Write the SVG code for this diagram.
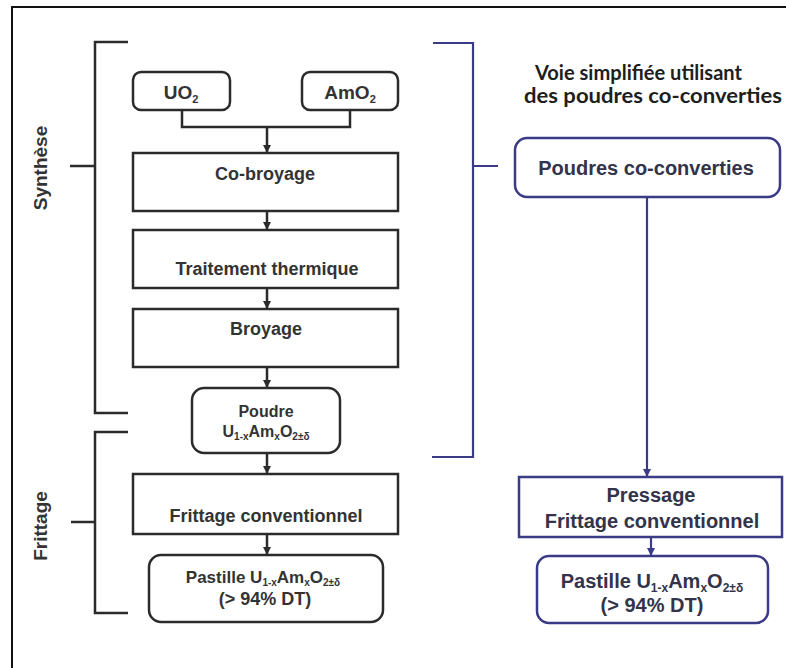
<svg xmlns="http://www.w3.org/2000/svg" width="786" height="668" viewBox="0 0 786 668">
  <style>
    .box-k { fill: #ffffff; stroke: #2b2b2b; stroke-width: 2.5; }
    .box-b { fill: #ffffff; stroke: #3a3a86; stroke-width: 2.5; }
    .ln-k { fill: none; stroke: #2b2b2b; stroke-width: 2.5; }
    .ln-b { fill: none; stroke: #3a3a86; stroke-width: 2.2; }
    .t { font-family: "Liberation Sans", Arial, sans-serif; font-weight: bold; fill: #333333; text-anchor: middle; }
    .tk { font-size: 18px; }
    .tb { font-size: 20px; fill: #33334a; }
    .title { font-family: Lato, "Open Sans", sans-serif; font-weight: bold; font-size: 20px; fill: #1e1e1e; }
  </style>
  <defs>
    <marker id="ak" viewBox="0 0 10 10" refX="10" refY="5" markerWidth="8" markerHeight="8" markerUnits="userSpaceOnUse" orient="auto">
      <path d="M0,0 L10,5 L0,10 Z" fill="#2b2b2b"/>
    </marker>
    <marker id="ab" viewBox="0 0 10 10" refX="10" refY="5" markerWidth="8" markerHeight="8" markerUnits="userSpaceOnUse" orient="auto">
      <path d="M0,0 L10,5 L0,10 Z" fill="#3a3a86"/>
    </marker>
  </defs>

  <rect width="786" height="668" fill="#ffffff"/>
  <!-- outer frame (runs off the right and bottom edges) -->
  <rect x="12" y="7" width="800" height="700" fill="none" stroke="#111111" stroke-width="2"/>

  <!-- phase brackets -->
  <g id="bracket-synthese">
    <path class="ln-k" d="M128,42 H95 V413 H128 M70,166 H95"/>
    <text class="t" font-size="19" transform="translate(47,168) rotate(-90)">Synthèse</text>
  </g>
  <g id="bracket-frittage">
    <path class="ln-k" d="M128,432 H95 V613 H128 M71,522 H95"/>
    <text class="t" font-size="19" transform="translate(47,526) rotate(-90)">Frittage</text>
  </g>
  <g id="bracket-voie">
    <path class="ln-b" d="M433,43 H473 V457 H432 M473,166 H498"/>
  </g>

  <!-- conventional route -->
  <g id="uo2">
    <rect class="box-k" x="133" y="72" width="97" height="38" rx="8"/>
    <text class="t" font-size="19" x="181" y="99">UO<tspan font-size="11" dy="4">2</tspan></text>
  </g>
  <g id="amo2">
    <rect class="box-k" x="302" y="72" width="96" height="38" rx="8"/>
    <text class="t" font-size="19" x="350" y="99">AmO<tspan font-size="11" dy="4">2</tspan></text>
  </g>
  <g id="co-broyage">
    <rect class="box-k" x="133" y="153" width="265" height="58"/>
    <text class="t tk" x="265" y="180">Co-broyage</text>
  </g>
  <g id="traitement">
    <rect class="box-k" x="133" y="230" width="265" height="58"/>
    <text class="t tk" x="267" y="275">Traitement thermique</text>
  </g>
  <g id="broyage">
    <rect class="box-k" x="133" y="309" width="265" height="58"/>
    <text class="t tk" x="266" y="335">Broyage</text>
  </g>
  <g id="poudre">
    <rect class="box-k" x="192" y="388" width="148" height="65" rx="12"/>
    <text class="t" font-size="16" x="266" y="417">Poudre</text>
    <text class="t" font-size="16" x="266" y="437">U<tspan font-size="10" dy="3">1-x</tspan><tspan dy="-3">Am</tspan><tspan font-size="10" dy="3">x</tspan><tspan dy="-3">O</tspan><tspan font-size="10" dy="3">2±δ</tspan></text>
  </g>
  <g id="frittage-conv">
    <rect class="box-k" x="133" y="474" width="265" height="60"/>
    <text class="t tk" x="266" y="522">Frittage conventionnel</text>
  </g>
  <g id="pastille">
    <rect class="box-k" x="149" y="555" width="234" height="67" rx="12"/>
    <text class="t" font-size="17" x="263" y="583">Pastille U<tspan font-size="10" dy="3">1-x</tspan><tspan dy="-3">Am</tspan><tspan font-size="10" dy="3">x</tspan><tspan dy="-3">O</tspan><tspan font-size="10" dy="3">2±δ</tspan></text>
    <text class="t tk" x="265" y="605">(&gt; 94% DT)</text>
  </g>

  <!-- simplified route -->
  <g id="voie-titre">
    <text class="title" x="535" y="80" textLength="207" lengthAdjust="spacingAndGlyphs">Voie simplifiée utilisant</text>
    <text class="title" x="524" y="103" textLength="258" lengthAdjust="spacingAndGlyphs">des poudres co-converties</text>
  </g>
  <g id="poudres-co">
    <rect class="box-b" x="515" y="138" width="265" height="59" rx="12"/>
    <text class="t tb" x="646" y="175" font-size="20.5">Poudres co-converties</text>
  </g>
  <g id="pressage">
    <rect class="box-b" x="519" y="477" width="263" height="60"/>
    <text class="t tb" x="651" y="502">Pressage</text>
    <text class="t tb" x="652" y="528">Frittage conventionnel</text>
  </g>
  <g id="pastille-co">
    <rect class="box-b" x="537" y="556" width="231" height="67" rx="12"/>
    <text class="t tb" x="652" y="588">Pastille U<tspan font-size="12" dy="4">1-x</tspan><tspan dy="-4">Am</tspan><tspan font-size="12" dy="4">x</tspan><tspan dy="-4">O</tspan><tspan font-size="12" dy="4">2±δ</tspan></text>
    <text class="t tb" x="652" y="612">(&gt; 94% DT)</text>
  </g>

  <!-- connectors -->
  <g id="connectors">
    <path class="ln-k" d="M182,110 V127 H350 V110"/>
    <path class="ln-k" d="M267,127 V153" marker-end="url(#ak)"/>
    <path class="ln-k" d="M267,211 V230" marker-end="url(#ak)"/>
    <path class="ln-k" d="M267,288 V309" marker-end="url(#ak)"/>
    <path class="ln-k" d="M267,367 V388" marker-end="url(#ak)"/>
    <path class="ln-k" d="M267,453 V474" marker-end="url(#ak)"/>
    <path class="ln-k" d="M267,534 V555" marker-end="url(#ak)"/>
    <path class="ln-b" d="M647,197 V477" marker-end="url(#ab)"/>
    <path class="ln-b" d="M651,537 V556" marker-end="url(#ab)"/>
  </g>
</svg>
